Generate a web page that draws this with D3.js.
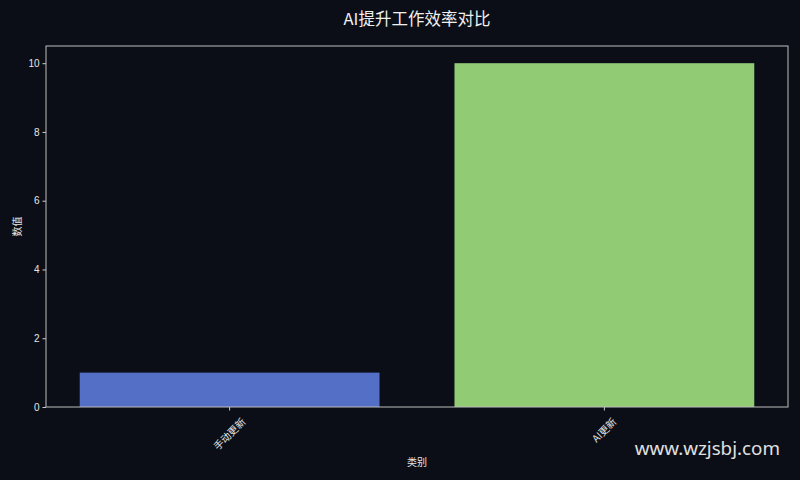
<!DOCTYPE html>
<html>
<head>
<meta charset="utf-8">
<script src="https://cdn.jsdelivr.net/npm/d3@7"></script>
<style>
  html, body { margin: 0; padding: 0; background: #0b0e16; }
  svg { display: block; font-family: "DejaVu Sans", "Noto Sans CJK SC", sans-serif; }
</style>
</head>
<body>
<div id="chart"></div>
<script>
// chart data
const categories = ["手动更新", "AI更新"];
const values = [1, 10];
const barColors = ["#5470c6", "#91cc75"];
const yTicks = [0, 2, 4, 6, 8, 10];

const W = 800, H = 480;
const margin = {top: 46, right: 12, bottom: 73, left: 46};
const width = W - margin.left - margin.right,
    height = H - margin.top - margin.bottom;

const svg = d3.select("#chart")
  .append("svg")
  .attr("width", W)
  .attr("height", H);

svg.append("rect")
  .attr("width", W).attr("height", H)
  .attr("fill", "#0b0e16");

const g = svg.append("g")
  .attr("transform", `translate(${margin.left},${margin.top})`);

// scales
const x = d3.scaleBand()
  .domain(categories)
  .range([0, width])
  .paddingInner(0.2)
  .paddingOuter(0.09);

const y = d3.scaleLinear()
  .domain([0, 10.5])
  .range([height, 0]);

// bars
g.selectAll(".bar")
  .data(categories)
  .enter()
  .append("rect")
  .attr("class", "bar")
  .attr("x", d => x(d))
  .attr("y", (d, i) => y(values[i]))
  .attr("width", x.bandwidth())
  .attr("height", (d, i) => y(0) - y(values[i]))
  .attr("fill", (d, i) => barColors[i]);

// Y axis
const yAxis = g.append("g")
  .call(d3.axisLeft(y).tickValues(yTicks).tickSize(3.5).tickPadding(3));
yAxis.select(".domain").remove();
yAxis.selectAll("line").attr("stroke", "#cccccc");
yAxis.selectAll("text")
  .attr("fill", "#e6e6e6")
  .style("font-size", "10px")
  .style("font-family", "'Liberation Sans', 'DejaVu Sans', sans-serif");

// X axis - labels rotated 45deg around their centre, like matplotlib
const xAxis = g.append("g")
  .attr("transform", `translate(0,${height})`)
  .call(d3.axisBottom(x).tickSize(3.5).tickPadding(3));
xAxis.select(".domain").remove();
xAxis.selectAll("line").attr("stroke", "#cccccc");
xAxis.selectAll("text")
  .attr("fill", "#e6e6e6")
  .style("font-size", "10px")
  .style("font-family", "'Noto Sans CJK SC', sans-serif")
  .attr("text-anchor", "middle")
  .attr("dy", "0.35em")
  .attr("y", 0)
  .attr("transform", function () {
    const w = this.getComputedTextLength();
    const half = (w + 10) / (2 * Math.SQRT2);
    return `translate(0,${9.5 + half}) rotate(-45)`;
  });

// frame
g.append("rect")
  .attr("width", width).attr("height", height)
  .attr("fill", "none")
  .attr("stroke", "#bdbdbd")
  .attr("stroke-width", 1);

// title and axis labels
svg.append("text")
  .attr("x", margin.left + width / 2)
  .attr("y", 25)
  .attr("text-anchor", "middle")
  .attr("fill", "#f0f0f0")
  .style("font-size", "16.5px")
  .style("font-family", "'Noto Sans CJK SC', sans-serif")
  .text("AI提升工作效率对比");

svg.append("text")
  .attr("x", margin.left + width / 2)
  .attr("y", 466)
  .attr("text-anchor", "middle")
  .attr("fill", "#e6e6e6")
  .style("font-size", "10px")
  .style("font-family", "'Noto Sans CJK SC', sans-serif")
  .text("类别");

svg.append("text")
  .attr("transform", `translate(21,${margin.top + height / 2}) rotate(-90)`)
  .attr("text-anchor", "middle")
  .attr("fill", "#e6e6e6")
  .style("font-size", "10px")
  .style("font-family", "'Noto Sans CJK SC', sans-serif")
  .text("数值");

// watermark
svg.append("text")
  .attr("x", 780)
  .attr("y", 455)
  .attr("text-anchor", "end")
  .attr("fill", "#e0e0e0")
  .style("font-size", "18.8px")
  .style("font-family", "'Noto Sans', sans-serif")
  .text("www.wzjsbj.com");
</script>
</body>
</html>
